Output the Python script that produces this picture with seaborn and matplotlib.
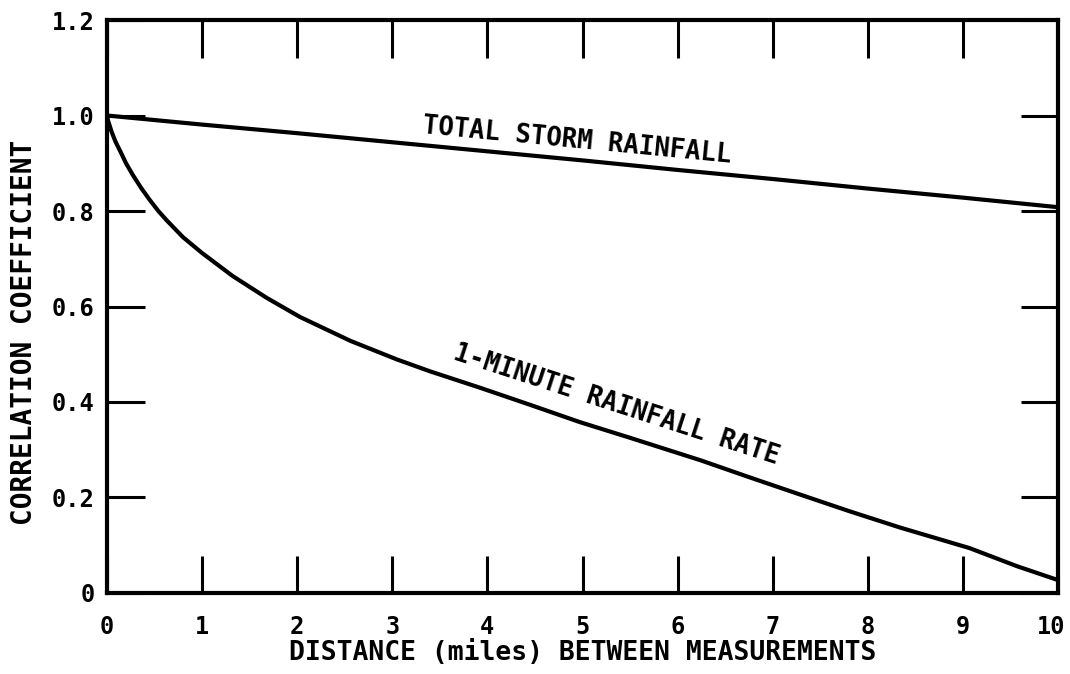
import numpy as np
import pandas as pd
import matplotlib
matplotlib.use("Agg")
import matplotlib.pyplot as plt
from matplotlib.transforms import ScaledTranslation
import seaborn as sns

# 読み取った値 (距離 [miles] と相関係数)
total_x = [0, 1, 2, 3, 4, 5, 6, 7, 8, 9, 10]
total_y = [1.0, 0.981, 0.963, 0.944, 0.925, 0.906, 0.886, 0.867, 0.847, 0.828, 0.808]

rate_x = [0, 0.01, 0.05, 0.09, 0.14, 0.2, 0.27, 0.36, 0.45, 0.54, 0.63, 0.8, 1.0,
          1.32, 1.68, 2.03, 2.56, 3.05, 3.4, 3.92, 4.45, 4.97, 5.5, 6.24, 6.76,
          7.29, 7.81, 8.34, 9.07, 9.57, 10.0]
rate_y = [1.0, 0.99, 0.965, 0.945, 0.925, 0.9, 0.876, 0.848, 0.823, 0.8, 0.78, 0.745, 0.712,
          0.664, 0.618, 0.578, 0.528, 0.489, 0.464, 0.43, 0.394, 0.358, 0.325, 0.278, 0.242,
          0.206, 0.171, 0.137, 0.094, 0.056, 0.027]

x_ticks = list(range(0, 11))
x_labels = [str(v) for v in x_ticks]
y_ticks = [0, 0.2, 0.4, 0.6, 0.8, 1.0, 1.2]
y_labels = ["0", "0.2", "0.4", "0.6", "0.8", "1.0", "1.2"]

sns.set_theme(style="white")
plt.rcParams['font.family'] = ['DejaVu Sans Mono', 'DejaVu Sans']
plt.rcParams['font.weight'] = 'bold'
plt.rcParams['axes.labelweight'] = 'bold'

df = pd.concat([
    pd.DataFrame({'distance': total_x, 'corr': total_y, 'series': 'total'}),
    pd.DataFrame({'distance': rate_x, 'corr': rate_y, 'series': 'rate'}),
])

fig = plt.figure(figsize=(10.7, 6.74), dpi=100)
ax = fig.add_axes([0.1, 0.1202, 0.8888, 0.8501])

sns.lineplot(data=df, x='distance', y='corr', units='series', estimator=None,
             color='black', linewidth=3.0, ax=ax, legend=False, clip_on=False)

ax.set_xlim(0, 10)
ax.set_ylim(0, 1.2)
ax.set_xticks(x_ticks)
ax.set_xticklabels(x_labels)
ax.set_yticks(y_ticks)
ax.set_yticklabels(y_labels)

# 枠線と目盛り (内向きの長い目盛り)
for s in ax.spines.values():
    s.set_visible(True)
    s.set_color('black')
    s.set_linewidth(3.0)
ax.tick_params(axis='both', which='major', direction='in', length=27, width=2.2,
               color='black', labelcolor='black', labelsize=17,
               bottom=True, left=True, top=True, right=True,
               labeltop=False, labelright=False)
ax.tick_params(axis='x', pad=16)
ax.tick_params(axis='y', pad=9)

# 右端の "10" が図の外にはみ出さないように少し左へずらす
last = ax.xaxis.get_major_ticks()[-1].label1
last.set_transform(last.get_transform() + ScaledTranslation(-7 / 100, 0, fig.dpi_scale_trans))

ax.set_xlabel('DISTANCE (miles) BETWEEN MEASUREMENTS', fontsize=19, color='black')
ax.xaxis.set_label_coords(0.5, -0.082)
ax.set_ylabel('CORRELATION COEFFICIENT', fontsize=20, color='black')
ax.yaxis.set_label_coords(-0.073, 0.455)

# 曲線上のラベル
ax.text(4.94, 0.947, 'TOTAL STORM RAINFALL', fontsize=18.5, rotation=-5.5,
        rotation_mode='anchor', ha='center', va='center', color='black')
ax.text(5.36, 0.394, '1-MINUTE RAINFALL RATE', fontsize=18.5, rotation=-18,
        rotation_mode='anchor', ha='center', va='center', color='black')

fig.savefig('out.png', dpi=100, facecolor='white')
